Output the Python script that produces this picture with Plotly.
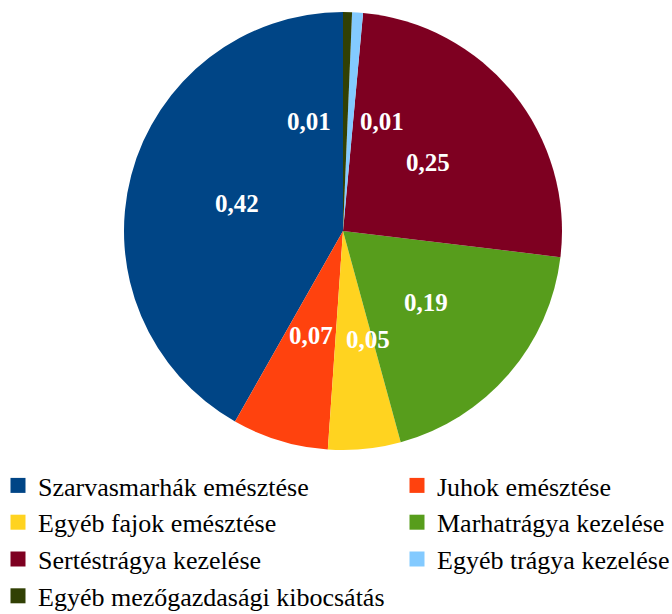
import math
import plotly.graph_objects as go

categories = [
    "Szarvasmarhák emésztése",
    "Juhok emésztése",
    "Egyéb fajok emésztése",
    "Marhatrágya kezelése",
    "Sertéstrágya kezelése",
    "Egyéb trágya kezelése",
    "Egyéb mezőgazdasági kibocsátás",
]
shares = [0.418, 0.071, 0.0535, 0.1885, 0.2545, 0.008, 0.0066]
colors = ["#004586", "#FF420E", "#FFD320", "#579D1C", "#7E0021", "#83CAFF", "#314004"]

# style: horizontal nudges (px) of the value labels to avoid overlap
label_xshift = [0, 0, 14, 0, 0, 32, -36]

W, H = 672, 614
cx, cy, R = 343, 231, 219
total = sum(shares)

fig = go.Figure()
fig.add_trace(go.Pie(
    labels=categories,
    values=shares,
    sort=False,
    direction="counterclockwise",
    rotation=-shares[0] / total * 360,
    marker=dict(colors=colors, line=dict(width=0)),
    textinfo="none",
    hoverinfo="label+value",
    domain=dict(x=[(cx - R) / W, (cx + R) / W], y=[1 - (cy + R) / H, 1 - (cy - R) / H]),
    showlegend=False,
))

# legend entries in two columns (row-wise order as in the reference)
for i, (name, col) in enumerate(zip(categories, colors)):
    fig.add_trace(go.Scatter(
        x=[None], y=[None], mode="markers", name=name,
        marker=dict(symbol="square", size=15, color=col),
        legend="legend" if i % 2 == 0 else "legend2",
        hoverinfo="skip", showlegend=True,
    ))

cum = 0.0
annotations = []
for v, dx in zip(shares, label_xshift):
    mid = (cum + v / 2) / total
    cum += v
    ang = 2 * math.pi * mid  # counterclockwise from 12 o'clock
    px = cx - 0.5 * R * math.sin(ang)
    py = cy - 0.5 * R * math.cos(ang)
    txt = f"{v:.2f}".replace(".", ",")
    annotations.append(dict(
        x=px / W, y=1 - py / H, xref="paper", yref="paper",
        xanchor="center", yanchor="middle",
        text=f"<b>{txt}</b>", showarrow=False, xshift=dx,
        font=dict(family="Liberation Serif", size=25, color="white"),
    ))

legend_font = dict(family="Liberation Serif", size=26, color="black")
fig.update_layout(
    width=W, height=H,
    margin=dict(l=0, r=0, t=0, b=0, autoexpand=False),
    paper_bgcolor="white",
    plot_bgcolor="white",
    xaxis=dict(visible=False),
    yaxis=dict(visible=False),
    annotations=annotations,
    legend=dict(
        orientation="v", x=-2 / W, xanchor="left",
        y=1 - 462 / H, yanchor="top",
        font=legend_font, bgcolor="rgba(0,0,0,0)", traceorder="normal",
    ),
    legend2=dict(
        orientation="v", x=397 / W, xanchor="left",
        y=1 - 462 / H, yanchor="top",
        font=legend_font, bgcolor="rgba(0,0,0,0)", traceorder="normal",
    ),
)

fig.write_html(
    "out.html",
    config={"displayModeBar": False},
    post_script="document.body.style.margin='0';",
)
